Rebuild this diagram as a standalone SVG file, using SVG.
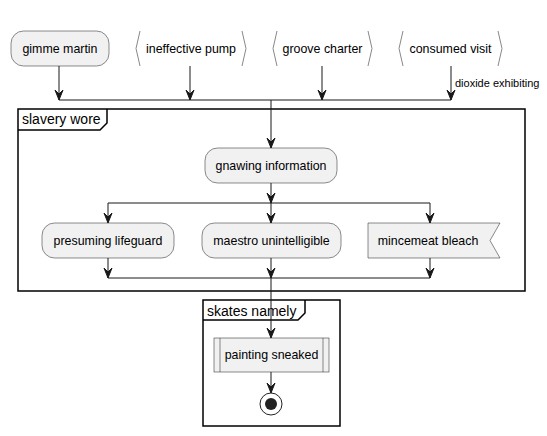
<svg xmlns="http://www.w3.org/2000/svg" width="547" height="436" viewBox="0 0 547 436">
<style>
text{font-family:"Liberation Sans",Arial,sans-serif;fill:#000}
.n{font-size:12.4px;text-anchor:middle}
.act{fill:#F1F1F1;stroke:#181818;stroke-width:0.5}
.br{fill:none;stroke:#888;stroke-width:1}
.frame{fill:none;stroke:#000;stroke-width:1.5}
.ln{fill:none;stroke:#181818;stroke-width:1}
.ah{fill:#181818;stroke:#181818;stroke-width:1}
.ft{font-size:14px}
</style>
<defs>
<polygon id="a" class="ah" points="-4,-10 0,0 4,-10 0,-6"/>
</defs>
<rect width="547" height="436" fill="#fff"/>
<g id="frame-slavery">
<rect class="frame" x="18" y="109" width="507" height="182"/>
<path class="frame" d="M18,130 L100,130 L107,123 L107,109"/>
<text class="ft" x="22" y="124">slavery wore</text>
</g>
<g id="frame-skates">
<rect class="frame" x="203" y="300" width="137" height="126"/>
<path class="frame" d="M203,320 L298,320 L305,313 L305,300"/>
<text class="ft" x="207" y="316">skates namely</text>
</g>
<g id="connectors">
<line class="ln" x1="59" y1="66" x2="59" y2="100"/>
<use href="#a" x="59" y="100"/>
<line class="ln" x1="190" y1="66" x2="190" y2="100"/>
<use href="#a" x="190" y="100"/>
<line class="ln" x1="322" y1="66" x2="322" y2="100"/>
<use href="#a" x="322" y="100"/>
<line class="ln" x1="451" y1="66" x2="451" y2="100"/>
<use href="#a" x="451" y="100"/>
<text x="455" y="87" font-size="11">dioxide exhibiting</text>
<line class="ln" x1="59" y1="100" x2="451" y2="100" stroke-width="1.5"/>
<line class="ln" x1="271" y1="100" x2="271" y2="148"/>
<use href="#a" x="271" y="148"/>
<line class="ln" x1="271" y1="183" x2="271" y2="203"/>
<use href="#a" x="271" y="203"/>
<line class="ln" x1="108" y1="203" x2="430" y2="203" stroke-width="1.5"/>
<line class="ln" x1="108" y1="203" x2="108" y2="223"/>
<use href="#a" x="108" y="223"/>
<line class="ln" x1="271" y1="203" x2="271" y2="223"/>
<use href="#a" x="271" y="223"/>
<line class="ln" x1="430" y1="203" x2="430" y2="223"/>
<use href="#a" x="430" y="223"/>
<line class="ln" x1="108" y1="258" x2="108" y2="278"/>
<use href="#a" x="108" y="278"/>
<line class="ln" x1="271" y1="258" x2="271" y2="278"/>
<use href="#a" x="271" y="278"/>
<line class="ln" x1="430" y1="258" x2="430" y2="278"/>
<use href="#a" x="430" y="278"/>
<line class="ln" x1="108" y1="278" x2="430" y2="278" stroke-width="1.5"/>
<line class="ln" x1="271" y1="278" x2="271" y2="338"/>
<use href="#a" x="271" y="338"/>
<line class="ln" x1="271" y1="372" x2="271" y2="393"/>
<use href="#a" x="271" y="393"/>
</g>
<g id="gimme-martin">
<rect class="act" x="11" y="31" width="98" height="35" rx="12.5"/>
<text class="n" x="60" y="53">gimme martin</text>
</g>
<g id="ineffective-pump">
<polyline class="br" points="140,31 136,48.5 140,66"/>
<polyline class="br" points="242,31 246,48.5 242,66"/>
<text class="n" x="191" y="53">ineffective pump</text>
</g>
<g id="groove-charter">
<polyline class="br" points="277,31 273,48.5 277,66"/>
<polyline class="br" points="368,31 372,48.5 368,66"/>
<text class="n" x="322.5" y="53">groove charter</text>
</g>
<g id="consumed-visit">
<polyline class="br" points="403,31 399,48.5 403,66"/>
<polyline class="br" points="498,31 502,48.5 498,66"/>
<text class="n" x="450.5" y="53">consumed visit</text>
</g>
<g id="gnawing-information">
<rect class="act" x="205" y="148" width="132" height="35" rx="12.5"/>
<text class="n" x="271" y="170">gnawing information</text>
</g>
<g id="presuming-lifeguard">
<rect class="act" x="42" y="223" width="132" height="35" rx="12.5"/>
<text class="n" x="108" y="245">presuming lifeguard</text>
</g>
<g id="maestro-unintelligible">
<rect class="act" x="202" y="223" width="139" height="35" rx="12.5"/>
<text class="n" x="271.5" y="245">maestro unintelligible</text>
</g>
<g id="mincemeat-bleach">
<polygon class="act" points="368,223 500,223 490,240.5 500,258 368,258"/>
<text class="n" x="428" y="245">mincemeat bleach</text>
</g>
<g id="painting-sneaked">
<rect class="act" x="214" y="338" width="115" height="34"/>
<line class="act" x1="220" y1="338" x2="220" y2="372"/>
<line class="act" x1="323" y1="338" x2="323" y2="372"/>
<text class="n" x="271.5" y="359">painting sneaked</text>
</g>
<g id="end">
<circle cx="271" cy="404" r="11" fill="none" stroke="#222" stroke-width="1"/>
<circle cx="271" cy="404" r="6" fill="#222"/>
</g>
</svg>
